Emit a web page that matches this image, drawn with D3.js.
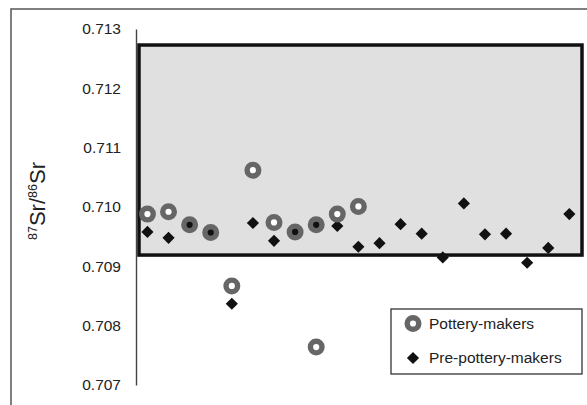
<!DOCTYPE html>
<html>
<head>
<meta charset="utf-8">
<script src="https://cdn.jsdelivr.net/npm/d3@7"></script>
<style>
  body { margin: 0; background: #fff; }
  svg { display: block; font-family: "Liberation Sans", Arial, sans-serif; }
</style>
</head>
<body>
<div id="chart"></div>
<script>
// sample index along the x direction (no axis shown)
const potteryIdx = [0, 1, 2, 3, 4, 5, 6, 7, 8, 8, 9, 10];
const potteryVal = [0.70988, 0.70992, 0.70970, 0.70957, 0.70867, 0.71062, 0.70974, 0.70958, 0.70970, 0.70764, 0.70988, 0.71001];

const prePotteryIdx = [0, 1, 2, 3, 4, 5, 6, 7, 8, 9, 10, 11, 12, 13, 14, 15, 16, 17, 18, 19, 20];
const prePotteryVal = [0.70958, 0.70948, 0.70970, 0.70957, 0.70837, 0.70973, 0.70943, 0.70958, 0.70970, 0.70968,
  0.70933, 0.70939, 0.70971, 0.70955, 0.70915, 0.71006, 0.70954, 0.70955, 0.70906, 0.70931, 0.70988];

const tickValues = [0.707, 0.708, 0.709, 0.710, 0.711, 0.712, 0.713];
const legendLabels = ["Pottery-makers", "Pre-pottery-makers"];

// local range box (shaded)
const boxX = [-0.4, 20.6];
const boxY = [0.70919, 0.71273];

const width = 587, height = 405;

const svg = d3.select("#chart").append("svg")
  .attr("width", width)
  .attr("height", height);

// outer frame
svg.append("rect")
  .attr("x", 11).attr("y", 9)
  .attr("width", 700).attr("height", 500)
  .attr("fill", "none")
  .attr("stroke", "#555")
  .attr("stroke-width", 1.5);

const x = d3.scaleLinear().domain([-0.4, 20.6]).range([139, 582]);
const y = d3.scaleLinear().domain([0.707, 0.713]).range([385, 29]);

const yAxis = svg.append("g")
  .attr("transform", "translate(136,0)")
  .call(d3.axisLeft(y).tickValues(tickValues).tickFormat(d3.format(".3f")).tickSize(0).tickSizeOuter(0).tickPadding(15));
yAxis.select(".domain").attr("stroke", "#444").attr("stroke-width", 1.4);
yAxis.selectAll("text")
  .attr("fill", "#222")
  .style("font-size", "15.5px")
  .style("font-family", "'Liberation Sans', Arial, sans-serif");

// y title
const title = svg.append("text")
  .attr("transform", "translate(45,201) rotate(-90)")
  .attr("text-anchor", "middle")
  .attr("fill", "#222")
  .style("font-size", "22px");
title.append("tspan").attr("font-size", "12.5px").attr("dy", "-8").text("87");
title.append("tspan").attr("dy", "8").text("Sr/");
title.append("tspan").attr("font-size", "12.5px").attr("dy", "-8").text("86");
title.append("tspan").attr("dy", "8").text("Sr");

// shaded range box
svg.append("rect")
  .attr("x", x(boxX[0]))
  .attr("y", y(boxY[1]))
  .attr("width", x(boxX[1]) - x(boxX[0]))
  .attr("height", y(boxY[0]) - y(boxY[1]))
  .attr("fill", "#e0e0e0")
  .attr("stroke", "#111")
  .attr("stroke-width", 3.5);

const diamond = d3.symbol().type(d3.symbolSquare).size(74);

const pre = prePotteryIdx.map((d, i) => ({ i: d, v: prePotteryVal[i] }));
const pot = potteryIdx.map((d, i) => ({ i: d, v: potteryVal[i] }));

svg.append("g").selectAll("path")
  .data(pre)
  .join("path")
  .attr("d", diamond)
  .attr("transform", d => `translate(${x(d.i)},${y(d.v)}) rotate(45)`)
  .attr("fill", "#111");

// rings sit on top; where a diamond is underneath the hole shows it
svg.append("g").selectAll("circle")
  .data(pot)
  .join("circle")
  .attr("cx", d => x(d.i))
  .attr("cy", d => y(d.v))
  .attr("r", 5.8)
  .attr("fill", d => pre.some(p => p.i === d.i && p.v === d.v) ? "none" : "#fff")
  .attr("stroke", "#666")
  .attr("stroke-width", 5.4);

// legend
const legend = svg.append("g");
legend.append("rect")
  .attr("x", 391).attr("y", 309)
  .attr("width", 191).attr("height", 65)
  .attr("fill", "#fff")
  .attr("stroke", "#333")
  .attr("stroke-width", 1.3);

legend.append("circle")
  .attr("cx", 413).attr("cy", 323.5)
  .attr("r", 5.8)
  .attr("fill", "#fff")
  .attr("stroke", "#666")
  .attr("stroke-width", 5.4);
legend.append("path")
  .attr("d", diamond)
  .attr("transform", "translate(413,358) rotate(45)")
  .attr("fill", "#111");

legend.selectAll("text")
  .data(legendLabels)
  .join("text")
  .attr("x", 429)
  .attr("y", (d, i) => 323.5 + i * 34.5)
  .attr("dy", "0.35em")
  .attr("fill", "#222")
  .style("font-size", "15.5px")
  .text(d => d);
</script>
</body>
</html>
